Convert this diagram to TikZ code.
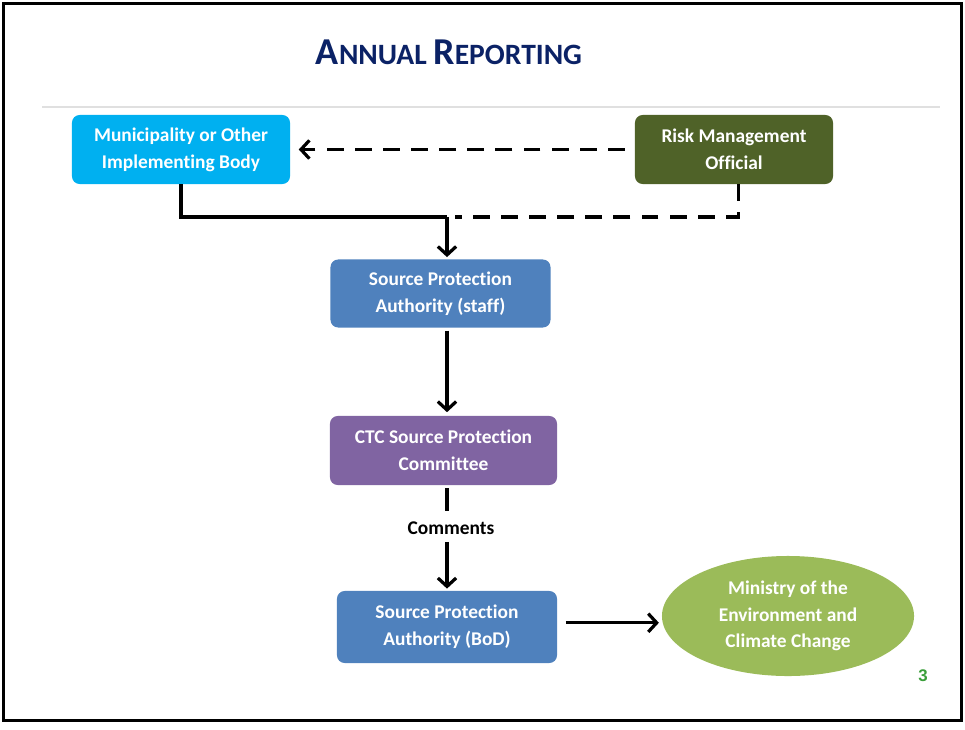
\documentclass[tikz,border=0pt]{standalone}
\usepackage{fontspec}
\setmainfont[Ligatures=NoCommon]{Carlito}
\newfontfamily\numfont{Liberation Sans}
\usepackage{xcolor}
\usepackage{tikz}
\usetikzlibrary{shapes, arrows.meta, positioning}
\definecolor{mcyan}{HTML}{00B0F0}
\definecolor{molive}{HTML}{4F6228}
\definecolor{mblue}{HTML}{4F81BD}
\definecolor{mpurple}{HTML}{8064A2}
\definecolor{mgreen}{HTML}{9BBB59}
\definecolor{mnavy}{HTML}{0B2266}
\definecolor{mpage}{HTML}{3A9E3A}
\newcommand{\boxfont}{\bfseries\fontsize{13.8}{19}\selectfont}

\begin{document}
\begin{tikzpicture}
  [
    x=0.025cm, y=-0.025cm,
    Box/.style={rectangle, rounded corners=5.5pt, draw=none, text=white, align=center, inner sep=0pt, font=\boxfont},
    Cyan/.style={Box, fill=mcyan, minimum width=5.45cm, minimum height=1.725cm},
    Olive/.style={Box, fill=molive, minimum width=4.95cm, minimum height=1.725cm},
    Blue/.style={Box, fill=mblue, minimum width=5.5cm, minimum height=1.7cm},
    Purple/.style={Box, fill=mpurple, minimum width=5.675cm, minimum height=1.725cm},
    Green/.style={ellipse, fill=mgreen, text=white, align=center, inner sep=0pt, font=\boxfont, minimum width=6.3cm, minimum height=3.0cm},
    Line/.style={line width=2.3pt, -{Straight Barb[length=6pt, width=13pt]}},
    Plain/.style={line width=2.3pt},
    Dash/.style={dash pattern=on 12pt off 8pt}
  ]
  \useasboundingbox (0,0) rectangle (965,729);
  \draw[line width=2.2pt] (3.5,3.5) rectangle (961.5,720.5);
  \draw[black!12, line width=1pt] (42,107) -- (940,107);
  % Nodes
  \node[text=mnavy, font=\bfseries] (title) at (449,52)
    {{\fontsize{27}{30}\selectfont A}{\fontsize{21}{30}\selectfont NNUAL }{\fontsize{27}{30}\selectfont R}{\fontsize{21}{30}\selectfont EPORTING}};
  \node[Cyan] (mun) at (181,149.5) {Municipality or Other\\Implementing Body};
  \node[Olive] (rmo) at (734,149.5) {Risk Management\\Official};
  \node[Blue] (spa) at (440.5,293.5) {Source Protection\\Authority (staff)};
  \node[Purple] (ctc) at (443.5,450.5) {CTC Source Protection\\Committee};
  \node[font=\boxfont, inner sep=0pt] (cmt) at (451,528) {Comments};
  \node[Blue, minimum width=5.5cm, minimum height=1.8cm] (bod) at (447,627) {Source Protection\\Authority (BoD)};
  \node[Green] (moe) at (788,616) {Ministry of the\\Environment and\\Climate Change};
  \node[text=mpage, font=\numfont\bfseries\fontsize{12}{14}\selectfont] (pg) at (923,676) {3};
  \coordinate (jn) at (447,217);
  \coordinate (dend) at (455,217);
  % Lines
  \path [draw, Line, Dash, shorten <=7pt, shorten >=6pt] (rmo.west) -- (mun.east);
  \path [draw, Plain] (mun.south) |- (jn);
  \path [draw, Line, shorten >=1.5pt] (jn) -- (jn |- spa.north);
  \path [draw, Plain, Dash] ([xshift=3pt]rmo.south) |- (dend);
  \path [draw, Line, shorten <=2pt, shorten >=2.5pt] (spa.south -| jn) -- (ctc.north -| jn);
  \path [draw, Plain, shorten <=2pt, shorten >=7pt] (ctc.south -| jn) -- (cmt.north -| jn);
  \path [draw, Line, shorten <=5pt, shorten >=1.5pt] (cmt.south -| jn) -- (bod.north -| jn);
  \path [draw, Line, shorten <=6pt, shorten >=2pt] ([yshift=3pt]bod.east) -- ([yshift=3pt]bod.east -| moe.west);
\end{tikzpicture}
\end{document}
